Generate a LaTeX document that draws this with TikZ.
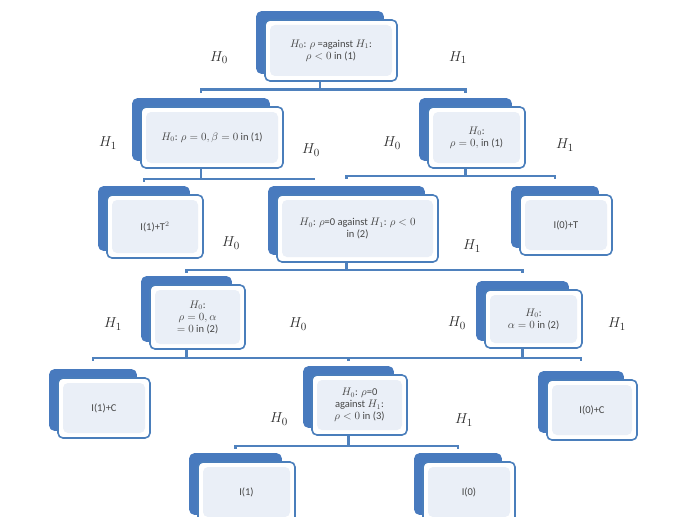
\documentclass[tikz,border=0pt]{standalone}
\usepackage{fontspec}
\setmainfont{Carlito}
\usetikzlibrary{backgrounds,calc}
\definecolor{bordc}{RGB}{74,126,187}
\definecolor{barc}{RGB}{79,129,189}
\definecolor{backc}{RGB}{72,122,190}
\definecolor{innerc}{RGB}{234,239,247}
\definecolor{txtc}{RGB}{70,70,70}
\definecolor{labc}{RGB}{45,45,45}
\tikzset{
  frontbox/.style={draw=bordc, line width=1.6pt, fill=white, rounded corners=5pt,
    align=center, inner sep=2pt, font=\fontsize{10.5}{12}\selectfont, text=txtc,
    path picture={\fill[innerc] ([xshift=5pt,yshift=-5pt]path picture bounding box.north west)
      rectangle ([xshift=-5pt,yshift=5pt]path picture bounding box.south east);}},
  conn/.style={draw=barc, line width=2.6pt},
  hlab/.style={font=\fontsize{15}{17}\selectfont, text=labc, inner sep=0pt},
}
\newcommand\backcard[1]{%
  \begin{scope}[on background layer]
    \fill[backc, rounded corners=5pt] ([shift={(-8pt,8pt)}]#1.south west)
      rectangle ([shift={(-14pt,8pt)}]#1.north east);
  \end{scope}}
\newcommand\branch[4]{%
  \draw[conn] ([xshift=-11pt]#1.south) -- ++(0,#2) coordinate (#1bar);
  \draw[conn] ([xshift=-11pt]#3.north |- #1bar) ++(0,3) -- ++(0,-3)
    -- ([xshift=-11pt]#4.north |- #1bar) -- ++(0,3);}
\begin{document}
\begin{tikzpicture}[x=1pt,y=-1pt]
\begin{scope}[on background layer]
  \fill[white] (0,0) rectangle (676,516);
\end{scope}
\useasboundingbox (0,0) rectangle (676,516);

% level 1
\node[frontbox, minimum width=132pt, minimum height=61pt] (top) at (331,50.5)
  {$H_0$: $\rho$ =against $H_1$:\\ $\rho<0$ in (1)};
\backcard{top}
% level 2
\node[frontbox, minimum width=142pt, minimum height=61pt] (a) at (212,137.5)
  {$H_0$: $\rho=0, \beta=0$ in (1)};
\backcard{a}
\node[frontbox, minimum width=97pt, minimum height=61pt] (b) at (476.5,137.5)
  {$H_0$:\\ $\rho=0,$ in (1)};
\backcard{b}
% level 3
\node[frontbox, minimum width=96pt, minimum height=63pt] (T2) at (155,226.5)
  {I(1)+T$^2$};
\backcard{T2}
\node[frontbox, minimum width=161pt, minimum height=67pt] (mid2) at (357.5,228.5)
  {$H_0$: $\rho$=0 against $H_1$: $\rho<0$\\ in (2)};
\backcard{mid2}
\node[frontbox, minimum width=92pt, minimum height=60pt] (T) at (566,225)
  {I(0)+T};
\backcard{T}
% level 4
\node[frontbox, minimum width=95pt, minimum height=64pt] (c) at (197.5,317)
  {$H_0$:\\ $\rho=0, \alpha$\\ $=0$ in (2)};
\backcard{c}
\node[frontbox, minimum width=97pt, minimum height=58pt] (d) at (533.5,319)
  {$H_0$:\\ $\alpha=0$ in (2)};
\backcard{d}
% level 5
\node[frontbox, minimum width=92pt, minimum height=60pt] (IC1) at (104,408)
  {I(1)+C};
\backcard{IC1}
\node[frontbox, minimum width=95pt, minimum height=60pt] (mid3) at (359.5,405)
  {$H_0$: $\rho$=0\\ against $H_1$:\\ $\rho<0$ in (3)};
\backcard{mid3}
\node[frontbox, minimum width=90pt, minimum height=60pt] (IC0) at (592,410)
  {I(0)+C};
\backcard{IC0}
% level 6
\node[frontbox, minimum width=97pt, minimum height=60pt] (I1) at (246.5,492)
  {I(1)};
\backcard{I1}
\node[frontbox, minimum width=92pt, minimum height=60pt] (I0) at (469,492)
  {I(0)};
\backcard{I0}

% connectors
\branch{top}{8}{a}{b}
\draw[conn] ([xshift=-11pt]a.south) -- ++(0,10) coordinate (abar);
\draw[conn] ([xshift=-11pt]T2.north |- abar) ++(0,3) -- ++(0,-3)
  -- ([xshift=-43pt]mid2.north |- abar);
\branch{b}{7}{mid2}{T}
\branch{mid2}{7}{c}{d}
\draw[conn] ([xshift=-11pt]c.south) -- ++(0,8) coordinate (cbar);
\draw[conn] ([xshift=-11pt]d.south) -- ([xshift=-11pt]d.south |- cbar);
\draw[conn] ([xshift=-11pt]IC1.north |- cbar) ++(0,3) -- ++(0,-3)
  -- ([xshift=-11pt]IC0.north |- cbar) -- ++(0,3);
\draw[conn] ([xshift=-11pt]mid3.north |- cbar) -- ++(0,3);
\branch{mid3}{10}{I1}{I0}

% branch labels
\node[hlab] (l1) at (219,58) {$H_0$};
\node[hlab] (l2) at (458,58) {$H_1$};
\node[hlab] (l3) at (108,143) {$H_1$};
\node[hlab] (l4) at (311,150) {$H_0$};
\node[hlab] (l5) at (392,143) {$H_0$};
\node[hlab] (l6) at (565,145) {$H_1$};
\node[hlab] (l7) at (231,243) {$H_0$};
\node[hlab] (l8) at (472,246) {$H_1$};
\node[hlab] (l9) at (113,324) {$H_1$};
\node[hlab] (l10) at (298,324) {$H_0$};
\node[hlab] (l11) at (457,323) {$H_0$};
\node[hlab] (l12) at (617,324) {$H_1$};
\node[hlab] (l13) at (279,419) {$H_0$};
\node[hlab] (l14) at (464,420) {$H_1$};
\end{tikzpicture}
\end{document}
